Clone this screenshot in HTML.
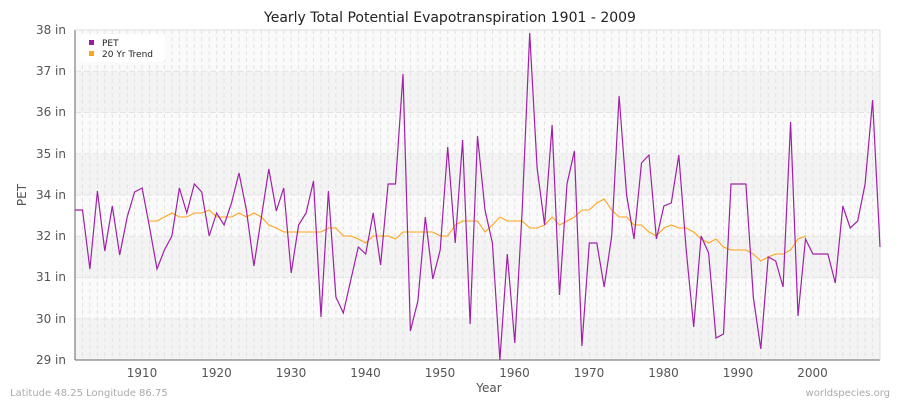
<!DOCTYPE html>
<html><head><meta charset="utf-8"><style>
body{margin:0;background:#fff;}
svg text{font-family:"DejaVu Sans","Liberation Sans",sans-serif;}
</style></head><body>
<svg id="s" width="900" height="400" xmlns="http://www.w3.org/2000/svg">
<rect width="900" height="400" fill="#fff"/>
<g id="bands"></g>
<g id="grid"></g>
<line x1="75" y1="30" x2="75" y2="360" stroke="#666" stroke-width="1"/>
<line x1="75" y1="360" x2="880" y2="360" stroke="#666" stroke-width="1"/>
<line x1="880" y1="30" x2="880" y2="360" stroke="#ddd" stroke-width="1"/>
<line x1="75" y1="30" x2="880" y2="30" stroke="#ddd" stroke-width="1"/>
<g font-size="12" fill="#555" text-anchor="end">
<text x="66" y="34">38 in</text><text x="66" y="75">37 in</text><text x="66" y="116">36 in</text><text x="66" y="158">35 in</text><text x="66" y="199">34 in</text><text x="66" y="240">32 in</text><text x="66" y="281">31 in</text><text x="66" y="323">30 in</text><text x="66" y="364">29 in</text>
</g>
<g font-size="12" fill="#555" text-anchor="middle">
<text x="142" y="377">1910</text><text x="216.5" y="377">1920</text><text x="291" y="377">1930</text><text x="365.5" y="377">1940</text><text x="440" y="377">1950</text><text x="514.5" y="377">1960</text><text x="589" y="377">1970</text><text x="663.5" y="377">1980</text><text x="738" y="377">1990</text><text x="812.5" y="377">2000</text>
</g>
<text x="450" y="22" font-size="14" text-anchor="middle" fill="#222">Yearly Total Potential Evapotranspiration 1901 - 2009</text>
<text x="489" y="392" font-size="12" text-anchor="middle" fill="#555">Year</text>
<text x="26" y="195" font-size="12" text-anchor="middle" fill="#555" transform="rotate(-90 26 195)">PET</text>
<text x="10" y="396" font-size="10" fill="#aaa">Latitude 48.25 Longitude 86.75</text>
<text x="890" y="396" font-size="10" fill="#aaa" text-anchor="end">worldspecies.org</text>
<polyline id="trend" fill="none" stroke="#ffa31a" stroke-width="1.1"/>
<polyline id="pet" fill="none" stroke="#a020a8" stroke-width="1.2"/>
<rect x="80" y="34" width="85" height="28" rx="4" fill="#fff" opacity="0.95"/>
<rect x="89" y="40" width="5" height="5" fill="#9c1aa0"/>
<rect x="89" y="51" width="5" height="5" fill="#ffa31a"/>
<text x="102" y="46" font-size="9" fill="#222">PET</text>
<text x="102" y="57" font-size="9" fill="#222">20 Yr Trend</text>
</svg>
<script>
var NS="http://www.w3.org/2000/svg";
function X(i){return 75+7.454*i;}
var b=document.getElementById("bands"),g=document.getElementById("grid");
for(var k=0;k<8;k++){var r=document.createElementNS(NS,"rect");var y0=30+k*41.25;
r.setAttribute("x",75);r.setAttribute("y",y0);r.setAttribute("width",805);r.setAttribute("height",41.25);
r.setAttribute("fill",k%2?"#f3f3f3":"#fafafa");b.appendChild(r);}
for(var i=0;i<=108;i++){var l=document.createElementNS(NS,"line");var x=X(i);
l.setAttribute("x1",x);l.setAttribute("x2",x);l.setAttribute("y1",30);l.setAttribute("y2",360);
l.setAttribute("stroke","#e2e2e2");l.setAttribute("stroke-dasharray","4,3");g.appendChild(l);}
for(var k=1;k<8;k++){var l=document.createElementNS(NS,"line");var y=30+k*41.25;
l.setAttribute("x1",75);l.setAttribute("x2",880);l.setAttribute("y1",y);l.setAttribute("y2",y);
l.setAttribute("stroke","#e4e4e4");l.setAttribute("stroke-dasharray","6,3");g.appendChild(l);}
var pet=[210,210,269,191,251,206,255,217,192,188,227,269,250,236,188,213,184,192,236,213,225,203,173,210,266,217,169,211,188,273,225,213,181,317,191,297,313,280,247,
254,213,265,184,184,74,331,301,217,279,250,147,243,140,324,136,210,243,360,254,343,210,33,168,225,125,295,184,151,346,243,243,287,236,96,195,239,
163,155,239,206,203,155,250,327,236,253,338,334,184,184,184,297,349,257,261,287,122,316,239,254,254,254,283,206,228,221,184,100,247];
var tr=[221,221,217,213,217,217,213,213,210,217,217,217,213,217,213,217,225,228,232,232,232,232,232,232,228,228,236,236,239,
243,236,236,236,239,232,232,232,232,232,236,236,225,221,221,221,232,225,217,221,221,221,228,228,225,217,225,221,217,210,210,203,199,210,217,217,225,
225,232,236,228,225,228,228,232,239,243,239,247,250,250,250,254,261,257,254,254,250,239,236];
document.getElementById("pet").setAttribute("points",pet.map(function(y,i){return X(i).toFixed(1)+","+y;}).join(" "));
document.getElementById("trend").setAttribute("points",tr.map(function(y,i){return X(i+10).toFixed(1)+","+y;}).join(" "));
</script>
</body></html>
